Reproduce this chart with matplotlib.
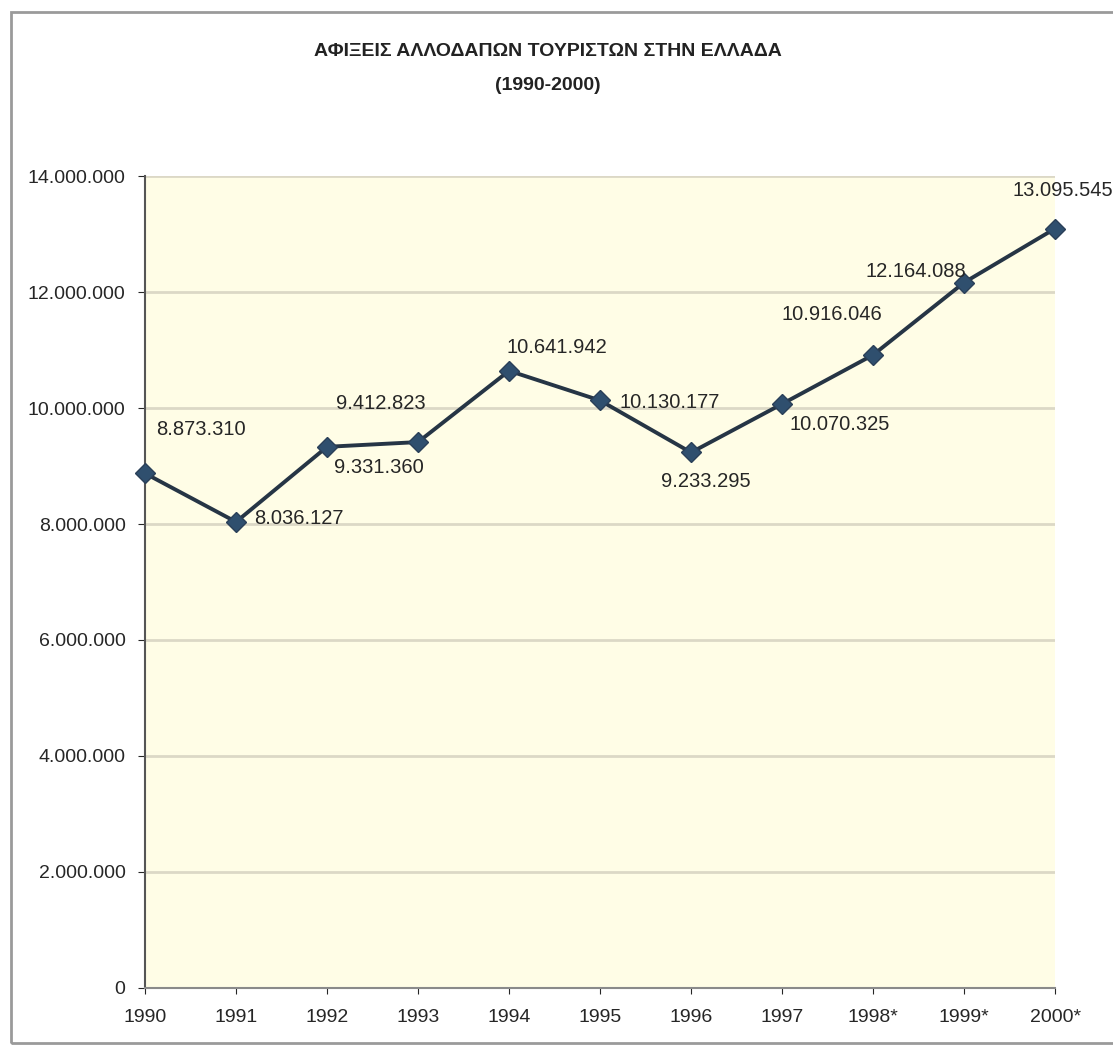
import numpy as np
import matplotlib.pyplot as plt
from matplotlib.ticker import FuncFormatter
from matplotlib.patches import Rectangle

plt.rcParams['font.family'] = ['Liberation Sans', 'DejaVu Sans']

# arrivals of foreign tourists per year
years = ['1990', '1991', '1992', '1993', '1994', '1995', '1996', '1997', '1998*', '1999*', '2000*']
arrivals = [8873310, 8036127, 9331360, 9412823, 10641942, 10130177,
            9233295, 10070325, 10916046, 12164088, 13095545]

# label offsets in pixels (dx, dy) and horizontal alignment
label_pos = [(56, 44, 'center'), (18, 3, 'left'), (7, -21, 'left'), (8, 39, 'right'),
             (48, 23, 'center'), (19, -2, 'left'), (15, -29, 'center'), (58, -21, 'center'),
             (-41, 40, 'center'), (-48, 11, 'center'), (8, 38, 'center')]


def dotted(v, pos=None):
    return f"{v:,.0f}".replace(',', '.')


fig = plt.figure(figsize=(11.13, 10.48), dpi=100)
ax = fig.add_axes([0.1303, 0.0573, 0.948 - 0.1303, 0.832 - 0.0573])

# outer frame around the whole chart
fig.patches.append(Rectangle((11 / 1113, 1 - 1043 / 1048), 1.0, (1043 - 12) / 1048,
                             transform=fig.transFigure, fill=False,
                             edgecolor='#9a9a9a', linewidth=2))

ax.set_facecolor('#fffde6')
x = np.arange(len(years))
ax.plot(x, arrivals, color='#263545', linewidth=2.8, marker='D', markersize=10,
        markerfacecolor='#2f4f6e', markeredgecolor='#2a3f58', clip_on=False, zorder=3)

for xi, v, (dx, dy, ha) in zip(x, arrivals, label_pos):
    ax.annotate(dotted(v), (xi, v), xytext=(dx, dy), textcoords='offset pixels',
                ha=ha, va='center', fontsize=14.5, color='#262626')

ax.set_xlim(0, len(years) - 1)
ax.set_ylim(0, 14000000)
ax.set_yticks(np.arange(0, 14000001, 2000000))
ax.yaxis.set_major_formatter(FuncFormatter(dotted))
ax.set_xticks(x)
ax.set_xticklabels(years)
ax.grid(axis='y', color='#dcd8c6', linewidth=2)
ax.set_axisbelow(True)

for s in ['top', 'right']:
    ax.spines[s].set_visible(False)
ax.spines['left'].set_color('#555555')
ax.spines['left'].set_linewidth(1.5)
ax.spines['bottom'].set_color('#8a8a8a')
ax.spines['bottom'].set_linewidth(1.5)

ax.tick_params(axis='y', length=5, pad=9, labelsize=14, colors='#262626')
ax.tick_params(axis='x', length=4, pad=11, labelsize=14, colors='#262626')

fig.text(548 / 1113, 1 - 52 / 1048, 'ΑΦΙΞΕΙΣ ΑΛΛΟΔΑΠΩΝ ΤΟΥΡΙΣΤΩΝ ΣΤΗΝ ΕΛΛΑΔΑ',
         ha='center', va='center', fontsize=14, fontweight='bold', color='#222222')
fig.text(548 / 1113, 1 - 86 / 1048, '(1990-2000)',
         ha='center', va='center', fontsize=14, fontweight='bold', color='#222222')

fig.savefig('out.png', dpi=100)
